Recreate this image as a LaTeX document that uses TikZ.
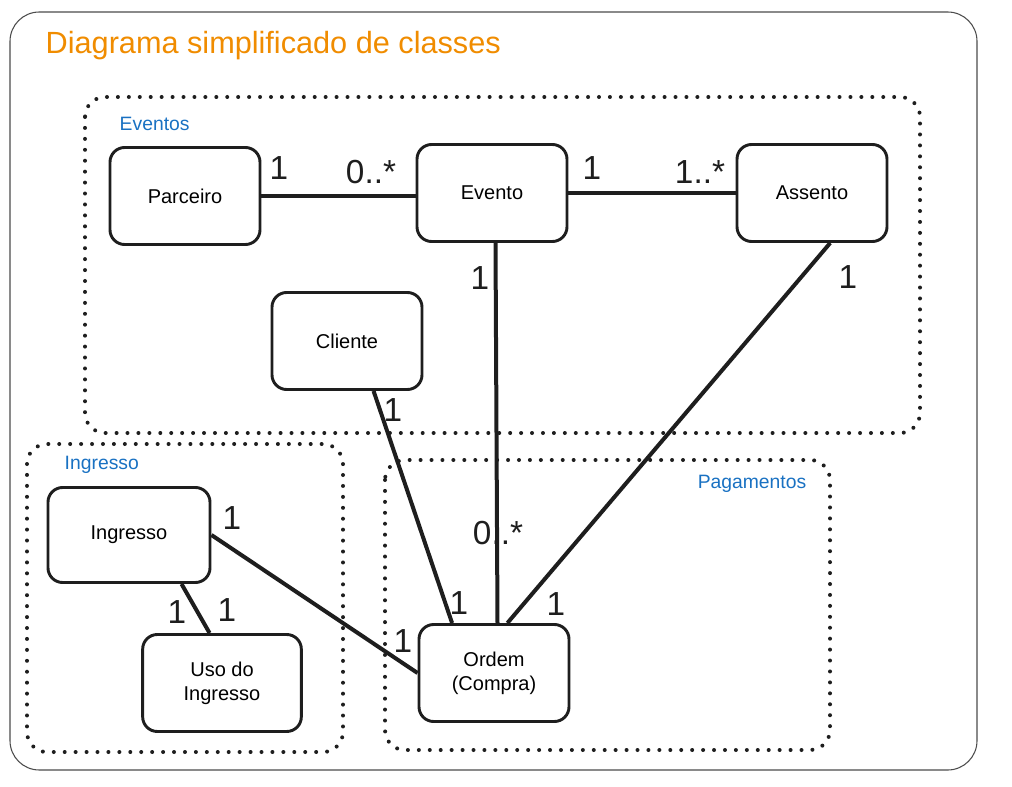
\documentclass[tikz,border=0pt]{standalone}
\usepackage{fontspec}
\setmainfont{Liberation Sans}
\usetikzlibrary{shapes.geometric, arrows}
\definecolor{tinta}{RGB}{30,30,30}
\definecolor{laranja}{RGB}{240,140,0}
\definecolor{azul}{RGB}{25,113,194}
\tikzstyle{classe} = [rectangle, rounded corners=11pt, minimum width=112.5pt, minimum height=72.75pt, text centered, align=center, draw=tinta, line width=2.2pt, font=\fontsize{15}{18}\selectfont]
\tikzstyle{grupo} = [draw=tinta, line width=3pt, line cap=round, dash pattern=on 0pt off 8.2pt, rounded corners=15pt]
\tikzstyle{rotulo} = [text=azul, anchor=west, font=\fontsize{14.5}{17}\selectfont]
\tikzstyle{mult} = [text=tinta, font=\fontsize{25}{25}\selectfont]
\tikzstyle{ligacao} = [draw=tinta, line width=3pt]

\begin{document}
\begin{tikzpicture}[x=0.75pt, y=-0.75pt]

    \useasboundingbox (0,0) rectangle (1012,787);
    \draw [draw=gray!60!black, line width=0.8pt, rounded corners=22pt] (10,12) rectangle (977,770);
    \node (titulo) [anchor=west, text=laranja, font=\fontsize{23}{26}\selectfont] at (41,46) {Diagrama simplificado de classes};

    % grupos
    \draw [grupo] (85,97) rectangle (920,433);
    \draw [grupo] (27,444) rectangle (343,752);
    \draw [grupo] (385,460) rectangle (830,750);
    \node (gEventos) [rotulo] at (115,124) {Eventos};
    \node (gIngresso) [rotulo] at (60,465) {Ingresso};
    \node (gPagamentos) [rotulo, anchor=east] at (811,484) {Pagamentos};

    % classes
    \node (parceiro) [classe] at (185,196) {Parceiro};
    \node (evento) [classe] at (492,193) {Evento};
    \node (assento) [classe] at (812,193) {Assento};
    \node (cliente) [classe] at (347,341) {Cliente};
    \node (ingresso) [classe, minimum width=121.5pt, minimum height=71.25pt] at (129,535) {Ingresso};
    \node (uso) [classe, minimum width=119pt] at (222,683) {Uso do\\Ingresso};
    \node (ordem) [classe] at (494,673) {Ordem\\(Compra)};

    % ligacoes
    \draw [ligacao] (parceiro.east) -- (evento.west |- parceiro.east);
    \draw [ligacao] (evento.east) -- (assento.west);
    \draw [ligacao] (evento.-86) -- (ordem.86);
    \draw [ligacao] (assento.-70) -- (ordem.75);
    \draw [ligacao] (cliente.-62) -- (ordem.130);
    \draw [ligacao] (ingresso.east) -- (ordem.west);
    \draw [ligacao] (ingresso.-43) -- (uso.104);

    % multiplicidades
    \node (m1) [mult] at (279,168) {1};
    \node (m2) [mult] at (371,172) {0..*};
    \node (m3) [mult] at (592,168) {1};
    \node (m4) [mult] at (700,172) {1..*};
    \node (m5) [mult] at (480,278) {1};
    \node (m6) [mult] at (498,533) {0..*};
    \node (m7) [mult] at (848,277) {1};
    \node (m8) [mult] at (556,604) {1};
    \node (m9) [mult] at (393,410) {1};
    \node (m10) [mult] at (459,603) {1};
    \node (m11) [mult] at (232,518) {1};
    \node (m12) [mult] at (403,641) {1};
    \node (m13) [mult] at (177,612) {1};
    \node (m14) [mult] at (227,610) {1};

\end{tikzpicture}
\end{document}
